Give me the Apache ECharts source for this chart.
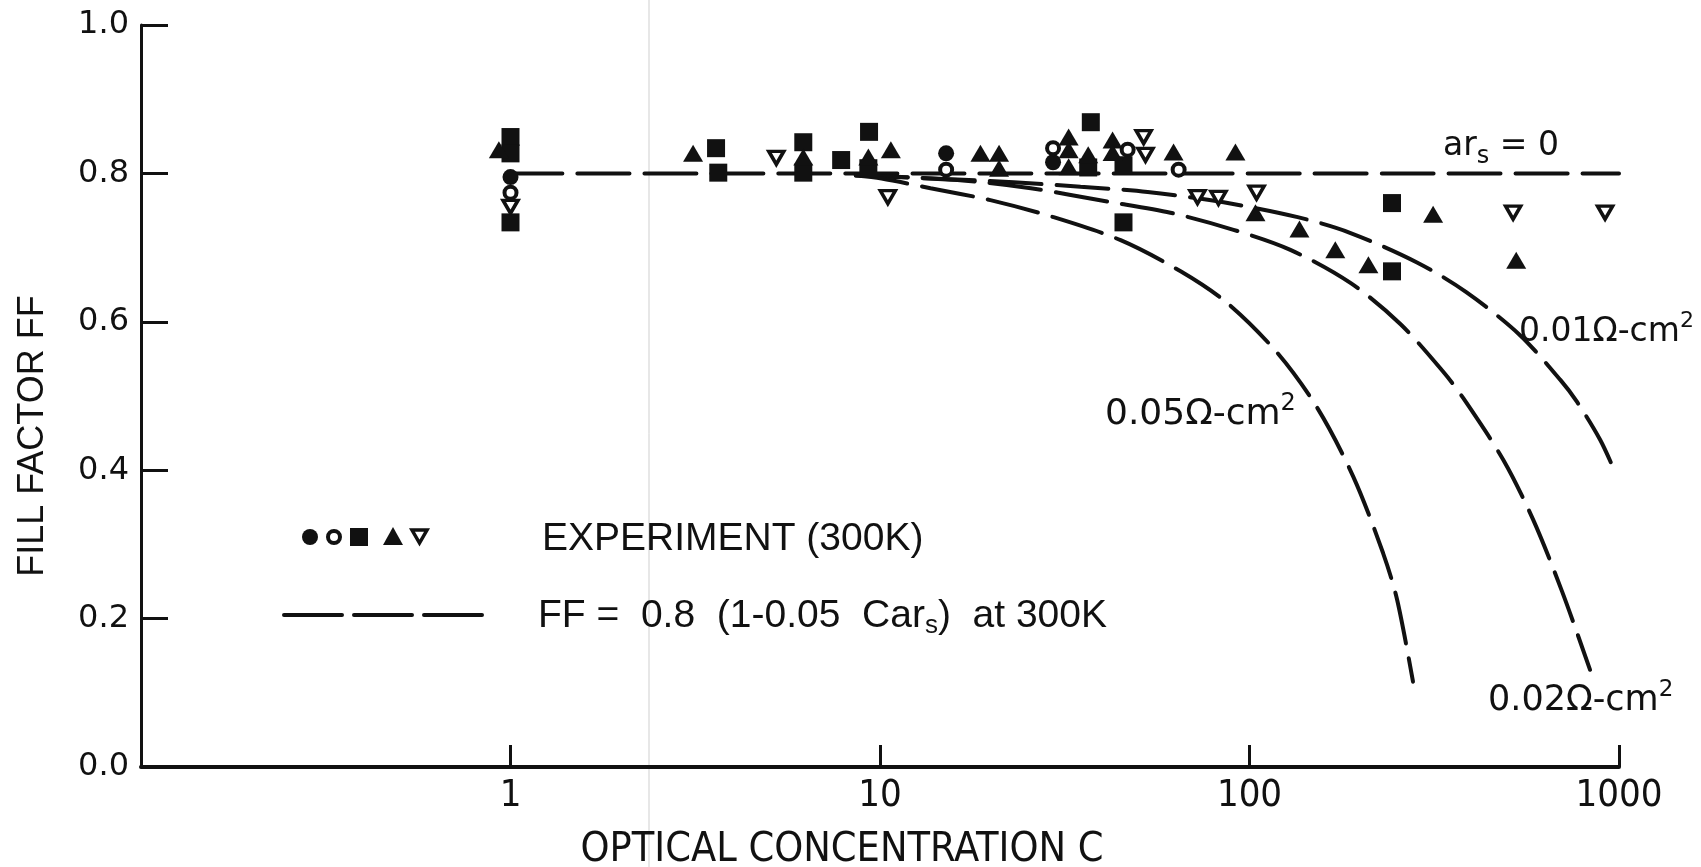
<!DOCTYPE html>
<html><head><meta charset="utf-8">
<script src="https://cdn.jsdelivr.net/npm/echarts@6/dist/echarts.min.js"></script>
<style>html,body{margin:0;padding:0;background:#fff}#c{width:1701px;height:867px}</style>
</head><body><div id="c"></div>
<script>
// ---- data (C, FF) ----
const filledCircles = [[1.0,0.795],[15.1,0.827],[29.4,0.815]];
const openCircles = [[1.0,0.774],[15.1,0.805],[29.4,0.834],[46.8,0.832],[64.3,0.805]];
const filledSquares = [[1.0,0.849],[1.0,0.827],[1.0,0.734],[3.6,0.834],[3.65,0.801],[6.2,0.842],[6.2,0.801],[7.85,0.818],[9.34,0.856],[9.3,0.807],[37.2,0.869],[36.6,0.808],[45.6,0.811],[45.6,0.734],[243,0.760],[243,0.668]];
const filledTriangles = [[0.93,0.832],[3.12,0.827],[6.2,0.822],[9.3,0.822],[10.7,0.832],[18.7,0.827],[21.0,0.827],[21.0,0.807],[32.4,0.849],[32.4,0.832],[32.4,0.809],[36.6,0.825],[42.6,0.845],[42.6,0.828],[62.3,0.829],[91.6,0.829],[103.8,0.747],[136.5,0.725],[170.7,0.697],[209.8,0.677],[314,0.745],[527,0.683]];
const openDownTriangles = [[1.0,0.755],[5.24,0.821],[10.5,0.768],[51.7,0.849],[52.3,0.825],[72.3,0.768],[82.4,0.767],[104.5,0.774],[517,0.747],[917,0.747]];

const curveArs0 = [[1,0.8],[1000,0.8]];
const curve001 = [[8.6,0.798],[23.0,0.788],[34.9,0.782],[53.0,0.775],[85.1,0.761],[135,0.741],[187,0.720],[284,0.680],[386,0.640],[537,0.583],[693,0.522],[770,0.492],[889,0.441],[975,0.398]];
const curve002 = [[8.6,0.797],[16.2,0.791],[25.6,0.780],[41.3,0.762],[61.1,0.747],[90.5,0.724],[129,0.697],[188,0.652],[256,0.597],[334,0.533],[379,0.497],[486,0.414],[586,0.333],[702,0.236],[835,0.131]];
const curve005 = [[8.6,0.797],[10.1,0.793],[13.7,0.780],[19.9,0.764],[29.5,0.741],[44.8,0.710],[65.1,0.668],[87.2,0.625],[119,0.558],[153,0.483],[191,0.391],[230,0.288],[251,0.225],[277,0.115]];

const xTickValues = [1, 10, 100, 1000];
const yTickValues = [0, 0.2, 0.4, 0.6, 0.8, 1.0];

const INK = '#111';
const chart = echarts.init(document.getElementById('c'), null, {renderer: 'canvas'});

function curve(name, data) {
  return {name, type: 'line', data, symbol: 'none', smooth: 0.3, silent: true, z: 2,
    lineStyle: {color: INK, width: 4, type: [52, 15], cap: 'round', opacity: 1}};
}
function scatter(name, data, symbol, size, filled, extra) {
  return Object.assign({name, type: 'scatter', data, symbol, symbolSize: size, z: 5, silent: true,
    itemStyle: filled ? {color: INK, opacity: 1} : {color: '#fff', borderColor: INK, borderWidth: 4, opacity: 1}}, extra || {});
}

const narrow = "'Liberation Sans Narrow','DejaVu Sans Condensed',sans-serif";
const round = "'DejaVu Sans',sans-serif";
const sans = "'Liberation Sans',sans-serif";
const C = {align: 'left', verticalAlign: 'middle', textAlign: 'left', textVerticalAlign: 'middle'};
function ohm(txt, size, supSize) {
  return {text: '{b|' + txt + '}{p|2}', fill: INK,
    rich: {b: {fontFamily: round, fontSize: size, lineHeight: size + 10, verticalAlign: 'middle', fill: INK, color: INK},
           p: {fontFamily: round, fontSize: supSize, lineHeight: supSize, verticalAlign: 'top', fill: INK, color: INK}}};
}

chart.setOption({
  animation: false,
  backgroundColor: '#fff',
  grid: {left: 141, right: 82, top: 25, bottom: 100, containLabel: false},
  xAxis: {
    type: 'log', logBase: 10, min: 0.1, max: 1000,
    axisLine: {lineStyle: {color: INK, width: 4}},
    axisTick: {inside: true, length: 22, lineStyle: {color: INK, width: 3}},
    minorTick: {show: false}, splitLine: {show: false},
    axisLabel: {color: INK, fontFamily: narrow, fontSize: 38, margin: 10,
      formatter: v => (xTickValues.some(t => Math.abs(t - v) / t < 1e-6) ? String(Math.round(v)) : '')}
  },
  yAxis: {
    type: 'value', min: 0, max: 1, interval: 0.2,
    axisLine: {show: true, lineStyle: {color: INK, width: 3}},
    axisTick: {show: true, inside: true, length: 27, lineStyle: {color: INK, width: 3}},
    splitLine: {show: false},
    axisLabel: {color: INK, fontFamily: round, fontSize: 32, margin: 12,
      formatter: v => yTickValues.some(t => Math.abs(t - v) < 1e-6) ? v.toFixed(1) : ''}
  },
  series: [
    curve('ar_s = 0', curveArs0),
    curve('0.01', curve001),
    curve('0.02', curve002),
    curve('0.05', curve005),
    scatter('filled circle', filledCircles, 'circle', 16, true),
    scatter('open circle', openCircles, 'circle', 12, false),
    scatter('filled square', filledSquares, 'rect', 18, true),
    scatter('filled triangle', filledTriangles, 'triangle', [20, 17], true),
    scatter('open down triangle', openDownTriangles, 'triangle', [15, 13], false, {symbolRotate: 180,
      itemStyle: {color: '#fff', borderColor: INK, borderWidth: 3.5, opacity: 1}})
  ],
  graphic: [
    {type: 'line', silent: true, z: 0, shape: {x1: 649, y1: 0, x2: 649, y2: 867},
      style: {stroke: '#cfcfcf', lineWidth: 1}},
    // axis titles
    {type: 'text', x: 842, y: 850, z: 10, style: {text: 'OPTICAL CONCENTRATION C', fill: INK,
      fontFamily: narrow, fontSize: 41, align: 'center', verticalAlign: 'middle', textAlign: 'center', textVerticalAlign: 'middle'}},
    {type: 'text', x: 33, y: 436, rotation: Math.PI / 2, z: 10, style: {text: 'FILL FACTOR FF', fill: INK,
      fontFamily: sans, fontSize: 36, align: 'center', verticalAlign: 'middle', textAlign: 'center', textVerticalAlign: 'middle'}},
    // curve labels
    {type: 'text', x: 1443, y: 146, z: 10, style: Object.assign({text: '{b|ar}{s|s}{b| = 0}', fill: INK,
      rich: {b: {fontFamily: round, fontSize: 33, lineHeight: 46, verticalAlign: 'middle', fill: INK, color: INK},
             s: {fontFamily: round, fontSize: 24, lineHeight: 21, verticalAlign: 'bottom', fill: INK, color: INK}}}, C)},
    {type: 'text', x: 1519, y: 332, z: 10, style: Object.assign(ohm('0.01Ω-cm', 33, 22), C)},
    {type: 'text', x: 1105, y: 415, z: 10, style: Object.assign(ohm('0.05Ω-cm', 36, 24), C)},
    {type: 'text', x: 1488, y: 701, z: 10, style: Object.assign(ohm('0.02Ω-cm', 35, 23), C)},
    // legend: symbols
    {type: 'circle', shape: {cx: 310, cy: 537, r: 8}, style: {fill: INK}},
    {type: 'circle', shape: {cx: 334, cy: 537, r: 6}, style: {fill: '#fff', stroke: INK, lineWidth: 4}},
    {type: 'rect', shape: {x: 350, y: 528, width: 18, height: 18}, style: {fill: INK}},
    {type: 'polygon', shape: {points: [[393, 527], [383, 545], [403, 545]]}, style: {fill: INK}},
    {type: 'polygon', shape: {points: [[412, 530], [427, 530], [419.5, 543]]}, style: {fill: '#fff', stroke: INK, lineWidth: 3.5}},
    {type: 'text', x: 542, y: 539, z: 10, style: Object.assign({text: 'EXPERIMENT (300K)', fill: INK,
      fontFamily: sans, fontSize: 39}, C)},
    // legend: dashed line
    {type: 'line', shape: {x1: 284, y1: 615, x2: 484, y2: 615},
      style: {stroke: INK, lineWidth: 4, lineDash: [58, 12], lineCap: 'round'}},
    {type: 'text', x: 538, y: 616, z: 10, style: Object.assign({text: '{b|FF =  0.8  (1-0.05  Car}{s|s}{b|)  at 300K}', fill: INK,
      rich: {b: {fontFamily: sans, fontSize: 39, lineHeight: 46, verticalAlign: 'middle', fill: INK, color: INK},
             s: {fontFamily: sans, fontSize: 26, lineHeight: 26, verticalAlign: 'bottom', fill: INK, color: INK}}}, C)}
  ]
});
</script></body></html>
